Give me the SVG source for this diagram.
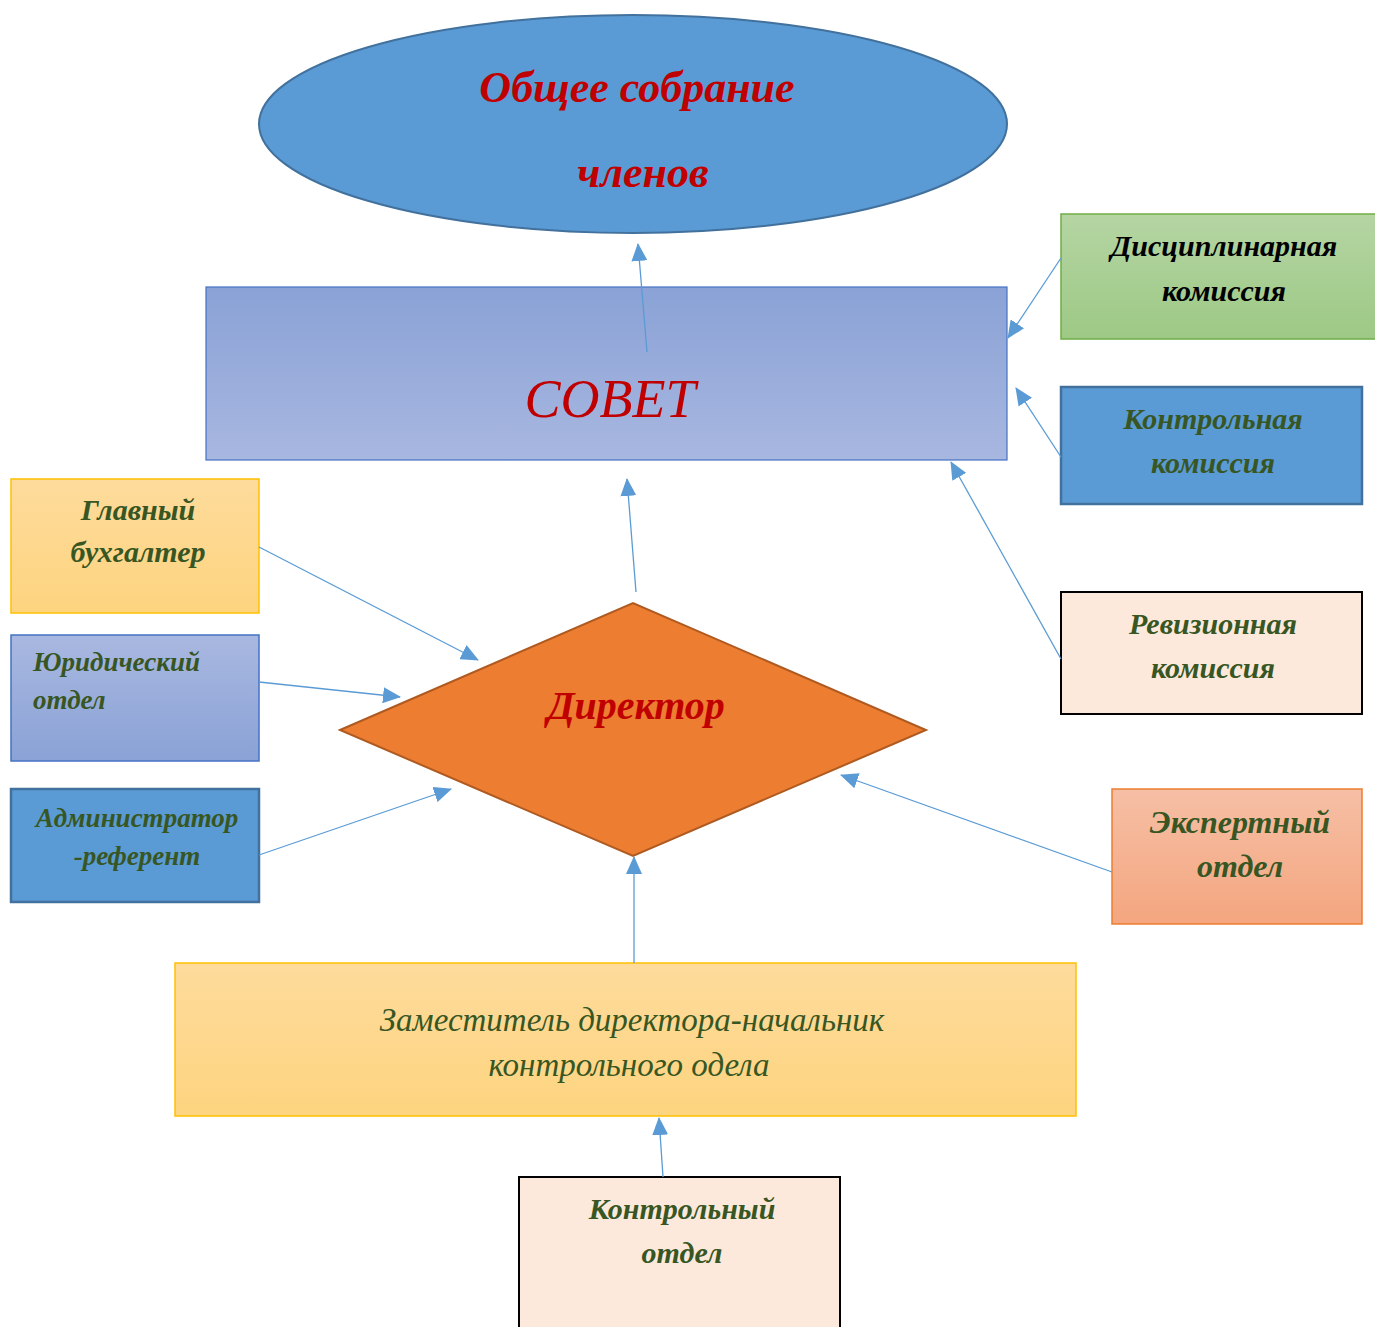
<svg xmlns="http://www.w3.org/2000/svg" width="1375" height="1327" viewBox="0 0 1375 1327">
<style>
.t{font-family:"Liberation Serif","DejaVu Serif",serif;font-style:italic;font-weight:bold;text-anchor:middle}
.red{fill:#C00000}
.grn{fill:#375623}
.blk{fill:#000000}
.conn{stroke:#5B9BD5;stroke-width:1.3;fill:none;marker-end:url(#ah)}
</style>
<defs>
<marker id="ah" markerUnits="userSpaceOnUse" markerWidth="18" markerHeight="16" refX="17" refY="8" orient="auto" viewBox="0 0 18 16">
<path d="M0,0 L18,8 L0,16 Z" fill="#5B9BD5"/>
</marker>
<linearGradient id="gBlue" x1="0" y1="0" x2="0" y2="1"><stop offset="0" stop-color="#8AA2D6"/><stop offset="1" stop-color="#A8B7E0"/></linearGradient>
<linearGradient id="gBlueR" x1="0" y1="0" x2="0" y2="1"><stop offset="0" stop-color="#A9B8E0"/><stop offset="1" stop-color="#8AA2D6"/></linearGradient>
<linearGradient id="gGreen" x1="0" y1="0" x2="0" y2="1"><stop offset="0" stop-color="#B5D5A3"/><stop offset="1" stop-color="#9DC985"/></linearGradient>
<linearGradient id="gGold" x1="0" y1="0" x2="0" y2="1"><stop offset="0" stop-color="#FEDB9C"/><stop offset="1" stop-color="#FDD47F"/></linearGradient>
<linearGradient id="gPeach" x1="0" y1="0" x2="0" y2="1"><stop offset="0" stop-color="#F6BFA5"/><stop offset="1" stop-color="#F4A67F"/></linearGradient>
</defs>

<g id="obshchee">
<ellipse cx="633" cy="124" rx="374" ry="109" fill="#5B9BD5" stroke="#41719C" stroke-width="2"/>
<text class="t red" x="637" y="102" font-size="44">Общее собрание</text>
<text class="t red" x="643" y="187" font-size="44">членов</text>
</g>

<g id="sovet">
<rect x="206" y="287" width="801" height="173" fill="url(#gBlue)" stroke="#4472C4" stroke-width="1.2"/>
<text class="t red" x="610" y="417" font-size="54" style="font-weight:normal">СОВЕТ</text>
</g>

<g id="disc">
<rect x="1061" y="214" width="316" height="125" fill="url(#gGreen)" stroke="#70AD47" stroke-width="1.5"/>
<text class="t blk" x="1224" y="256" font-size="30">Дисциплинарная</text>
<text class="t blk" x="1224" y="301" font-size="30">комиссия</text>
</g>

<g id="kontrkom">
<rect x="1061" y="387" width="301" height="117" fill="#5B9BD5" stroke="#41719C" stroke-width="2.5"/>
<text class="t grn" x="1213" y="429" font-size="30">Контрольная</text>
<text class="t grn" x="1213" y="473" font-size="30">комиссия</text>
</g>

<g id="reviz">
<rect x="1061" y="592" width="301" height="122" fill="#FCE9DB" stroke="#000000" stroke-width="2"/>
<text class="t grn" x="1213" y="634" font-size="30">Ревизионная</text>
<text class="t grn" x="1213" y="678" font-size="30">комиссия</text>
</g>

<g id="ekspert">
<rect x="1112" y="789" width="250" height="135" fill="url(#gPeach)" stroke="#ED7D31" stroke-width="1.5"/>
<text class="t grn" x="1240" y="833" font-size="32">Экспертный</text>
<text class="t grn" x="1240" y="877" font-size="32">отдел</text>
</g>

<g id="buh">
<rect x="11" y="479" width="248" height="134" fill="url(#gGold)" stroke="#FFC000" stroke-width="1.5"/>
<text class="t grn" x="138" y="520" font-size="30">Главный</text>
<text class="t grn" x="138" y="562" font-size="30">бухгалтер</text>
</g>

<g id="yur">
<rect x="11" y="635" width="248" height="126" fill="url(#gBlueR)" stroke="#4472C4" stroke-width="1.5"/>
<text class="t grn" x="33" y="671" font-size="27" style="text-anchor:start">Юридический</text>
<text class="t grn" x="33" y="709" font-size="27" style="text-anchor:start">отдел</text>
</g>

<g id="admin">
<rect x="11" y="789" width="248" height="113" fill="#5B9BD5" stroke="#41719C" stroke-width="2.5"/>
<text class="t grn" x="137" y="827" font-size="27">Администратор</text>
<text class="t grn" x="137" y="865" font-size="27">-референт</text>
</g>

<g id="direktor">
<polygon points="340,730 633,603 926,730 633,856" fill="#ED7D31" stroke="#AE5A21" stroke-width="2"/>
<text class="t red" x="636" y="719" font-size="40">Директор</text>
</g>

<g id="zam">
<rect x="175" y="963" width="901" height="153" fill="url(#gGold)" stroke="#FFC000" stroke-width="1.5"/>
<text class="t grn" x="632" y="1031" font-size="33" style="font-weight:normal">Заместитель директора-начальник</text>
<text class="t grn" x="629" y="1076" font-size="33" style="font-weight:normal">контрольного одела</text>
</g>

<g id="kontrotdel">
<rect x="519" y="1177" width="321" height="160" fill="#FCE9DB" stroke="#000000" stroke-width="2"/>
<text class="t grn" x="682" y="1219" font-size="30">Контрольный</text>
<text class="t grn" x="682" y="1263" font-size="30">отдел</text>
</g>

<g id="connectors">
<line class="conn" x1="647" y1="352" x2="638" y2="244"/>
<line class="conn" x1="1061" y1="258" x2="1008" y2="338"/>
<line class="conn" x1="1061" y1="457" x2="1016" y2="388"/>
<line class="conn" x1="1061" y1="659" x2="951" y2="462"/>
<line class="conn" x1="1112" y1="872" x2="841" y2="775"/>
<line class="conn" x1="259" y1="547" x2="478" y2="660"/>
<line class="conn" x1="259" y1="682" x2="400" y2="697"/>
<line class="conn" x1="259" y1="855" x2="451" y2="789"/>
<line class="conn" x1="636" y1="592" x2="627" y2="479"/>
<line class="conn" x1="634" y1="963" x2="634" y2="857"/>
<line class="conn" x1="663" y1="1177" x2="659" y2="1118"/>
</g>
</svg>
